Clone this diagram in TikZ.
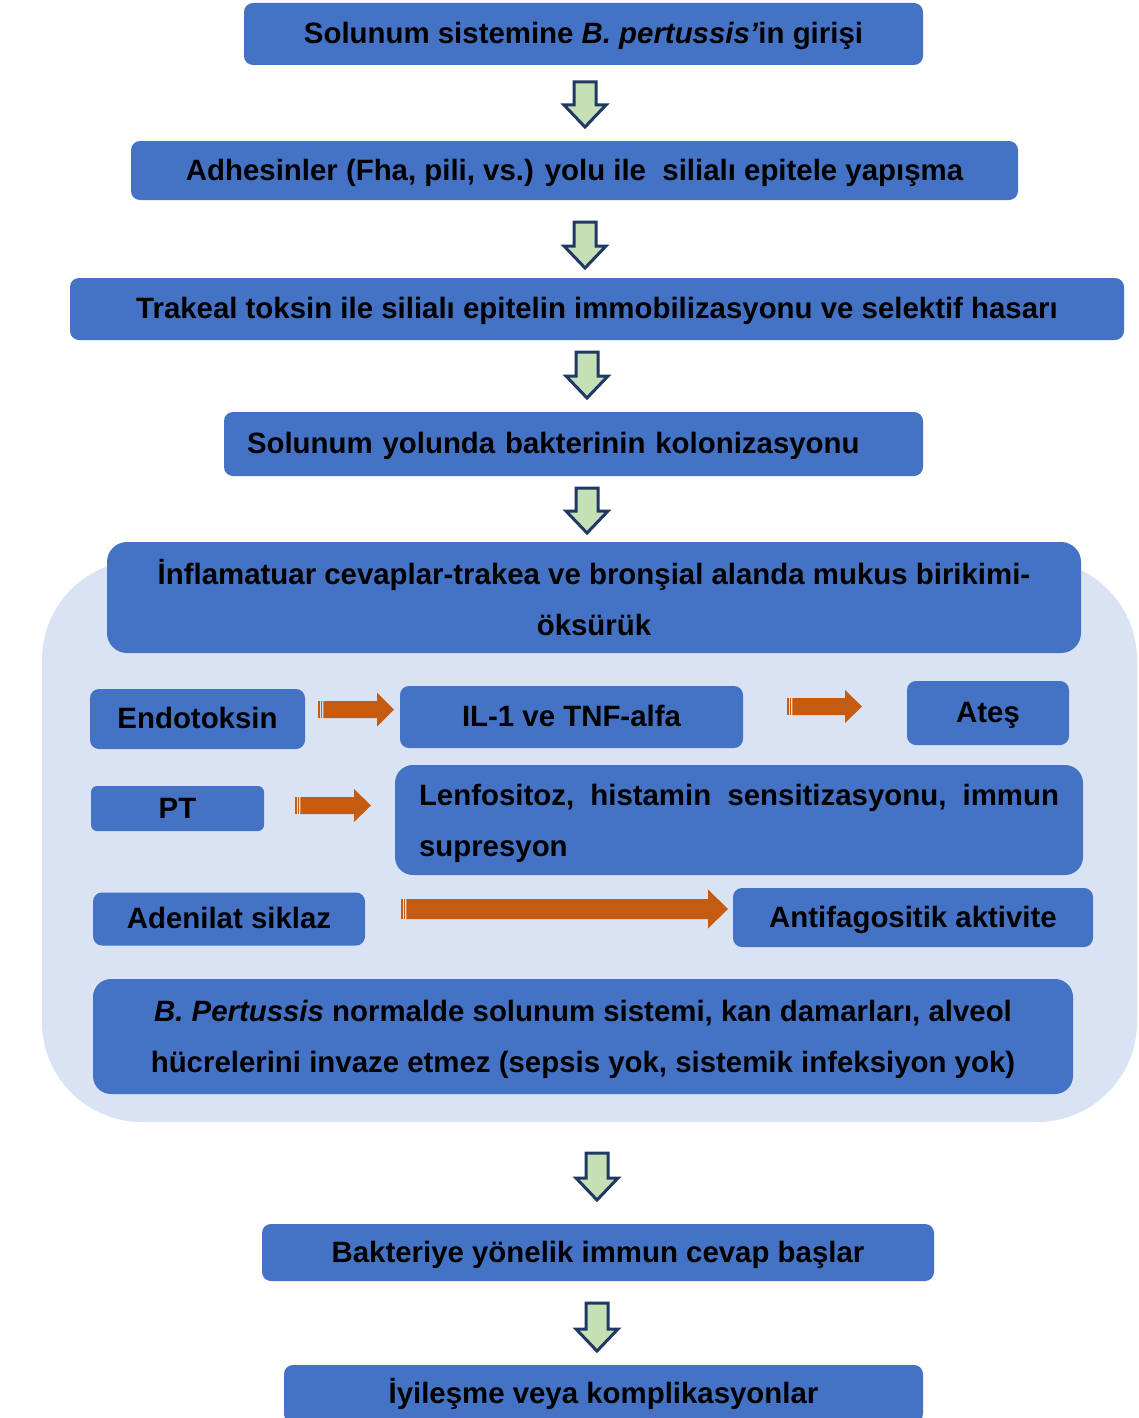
\documentclass[tikz,border=0pt]{standalone}
\usepackage{fontspec}
\setmainfont{Liberation Sans}
\definecolor{boxblue}{HTML}{4472C4}
\definecolor{regionblue}{HTML}{DAE3F3}
\definecolor{arrgreen}{HTML}{C5E0B4}
\definecolor{arrnavy}{HTML}{203864}
\definecolor{arrorange}{HTML}{C55A11}
\newcommand\gdown[3]{%
  \draw[garrow] (#1-11,#2) -- (#1+11,#2) -- (#1+11,#3-22) -- (#1+21,#3-22)
    -- (#1,#3) -- (#1-21,#3-22) -- (#1-11,#3-22) -- cycle;}
% x1, x2, yc, shaft half, head half, head length
\newcommand\orarr[6]{%
  \fill[arrorange] (#1,#3-#4) rectangle (#1+1.6,#3+#4);
  \fill[arrorange] (#1+2.7,#3-#4) rectangle (#1+4.3,#3+#4);
  \fill[arrorange] (#1+5.4,#3-#4) -- (#2-#6,#3-#4) -- (#2-#6,#3-#5) -- (#2,#3)
    -- (#2-#6,#3+#5) -- (#2-#6,#3+#4) -- (#1+5.4,#3+#4) -- cycle;}
\begin{document}
\begin{tikzpicture}[x=1pt,y=-1pt,
  box/.style={fill=boxblue, rounded corners=9pt, inner sep=0pt,
    font=\bfseries\fontsize{29.4}{51}\selectfont, text=black},
  one/.style={text height=22pt, text depth=3pt},
  garrow/.style={fill=arrgreen, draw=arrnavy, line width=3pt, line join=miter}]
\clip (0,0) rectangle (1138,1418);
\fill[white] (0,0) rectangle (1138,1418);
% background region
\fill[regionblue, rounded corners=100pt] (42,560) rectangle (1137,1122);

% main chain
\node[box, one, minimum width=679, minimum height=62] (b1) at (583.5,34)
  {Solunum sistemine \textit{B. pertussis’}in girişi};
\node[box, one, minimum width=887, minimum height=59] (b2) at (574.5,170.5)
  {Adhesinler (Fha, pili, vs.) yolu ile\ \ silialı epitele yapışma};
\node[box, one, minimum width=1054, minimum height=62] (b3) at (597,309)
  {Trakeal toksin ile silialı epitelin immobilizasyonu ve selektif hasarı};
\node[box, one, minimum width=699, minimum height=64, text width=653, align=left] (b4) at (573.5,444)
  {Solunum yolunda bakterinin kolonizasyonu};
\node[box, rounded corners=20pt, minimum width=974, minimum height=111, align=center] (b5) at (594,597.5)
  {İnflamatuar cevaplar-trakea ve bronşial alanda mukus birikimi-\\öksürük};

% inner boxes
\node[box, one, minimum width=215, minimum height=60] (endo) at (197.5,719) {Endotoksin};
\node[box, one, minimum width=343, minimum height=62] (il) at (571.5,717) {IL-1 ve TNF-alfa};
\node[box, one, minimum width=162, minimum height=64] (ates) at (988,713) {Ateş};
\node[box, one, minimum width=173, minimum height=45, rounded corners=6pt] (pt) at (177.5,808.5) {PT};
\node[box, rounded corners=18pt, minimum width=688, minimum height=110, text width=640, align=left] (lenf) at (739,820)
  {\makebox[640pt][l]{\rule{0pt}{29pt}Lenfositoz,\hfill histamin\hfill sensitizasyonu,\hfill immun}\\supresyon};
\node[box, one, minimum width=272, minimum height=53] (aden) at (229,919) {Adenilat siklaz};
\node[box, one, minimum width=360, minimum height=59] (anti) at (913,917.5) {Antifagositik aktivite};
\node[box, rounded corners=18pt, minimum width=980, minimum height=115, align=center] (bp) at (583,1036.5)
  {\rule{0pt}{27pt}\textit{B. Pertussis} normalde solunum sistemi, kan damarları, alveol\\hücrelerini invaze etmez (sepsis yok, sistemik infeksiyon yok)};

% final chain
\node[box, one, minimum width=672, minimum height=57] (bak) at (598,1252.5) {Bakteriye yönelik immun cevap başlar};
\node[box, one, minimum width=639, minimum height=58] (last) at (603.5,1394) {İyileşme veya komplikasyonlar};

% green down arrows
\gdown{585}{82}{127}
\gdown{585}{222}{268}
\gdown{587}{352}{398}
\gdown{587}{488}{533}
\gdown{597}{1153}{1200}
\gdown{597}{1303}{1351}

% orange arrows
\orarr{318}{394}{709.5}{8.5}{17}{17}
\orarr{787}{862}{706.5}{8.5}{16.5}{17}
\orarr{295}{371}{805.5}{8.5}{16.5}{17}
\orarr{401}{728}{909}{10}{19.5}{20}
\end{tikzpicture}
\end{document}
